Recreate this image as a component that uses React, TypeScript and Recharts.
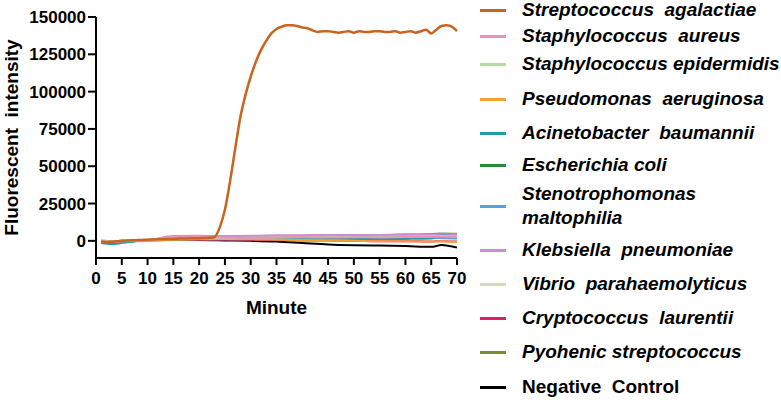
import React from 'react';
import { LineChart, Line, XAxis, YAxis } from 'recharts';

// minute-by-minute readings for the positive sample
const minutesFine = Array.from({ length: 70 }, (_, i) => i + 1);
const agalactiae = [
  -500, -800, -600, -300, 0, 200, 400, 500, 600, 800,
  900, 1000, 1100, 1200, 1300, 1500, 1600, 1700, 1800, 1800,
  1900, 2000, 2600, 9000, 21000, 40000, 62000, 83000, 98000, 110000,
  120000, 128000, 134000, 139000, 142000, 143500, 144500, 144500, 144000, 143000,
  142500, 141000, 140000, 140500, 140500, 140000, 139500, 140000, 140500, 139500,
  140500, 140000, 140000, 140500, 140500, 140000, 140000, 140500, 139500, 140000,
  140500, 139500, 140500, 141500, 139000, 141500, 144000, 144500, 143500, 140500,
];

// coarser readings for the baseline samples
const minutesCoarse = [1, 3, 5, 10, 15, 20, 25, 30, 35, 40, 45, 50, 55, 60, 65, 67, 70];
const aureus = [-500, -800, -300, 300, 2500, 2800, 2200, 2000, 2300, 2500, 2200, 2400, 2300, 2500, 2600, 2800, 2500];
const epidermidis = [0, -500, 0, 800, 1500, 2000, 1800, 2000, 2200, 2400, 2500, 2600, 2600, 2800, 3000, 3200, 3000];
const pseudomonas = [-300, -500, -300, 300, 800, 1000, 1200, 1000, 800, 500, 300, 0, -200, -300, -500, -300, -800];
const acinetobacter = [-1500, -2200, -1500, 500, 800, 1200, 1000, 1200, 1300, 1500, 1500, 1300, 1200, 1300, 1500, 3500, 3000];
const ecoli = [-1000, -1200, -800, 500, 1000, 1500, 1800, 1500, 1600, 1800, 2000, 2200, 2000, 2200, 2300, 2800, 2500];
const stenotrophomonas = [-800, -1000, -600, 400, 1200, 1500, 1400, 1600, 1500, 1800, 1700, 1900, 1800, 2000, 2000, 1800, 1600];
const klebsiella = [-500, -700, -400, 300, 3000, 3300, 3000, 3200, 3500, 3600, 3800, 3700, 3800, 4000, 4000, 4200, 4000];
const vibrio = [-300, -300, 0, 500, 1200, 1500, 1800, 2000, 2400, 2600, 2800, 3000, 3200, 3200, 3400, 3600, 3400];
const cryptococcus = [-800, -1000, -500, 200, 600, 800, 700, 800, 500, 300, 200, 0, -300, -200, -500, -200, -400];
const pyohenic = [-600, -800, -400, 500, 1000, 1500, 2000, 2500, 3000, 3200, 3500, 3800, 3800, 4200, 4500, 5000, 4800];
const negative = [0, -200, 0, 500, 500, 600, 300, 0, -500, -1500, -2500, -3000, -3200, -3500, -4000, -2800, -4500];

const xTicks = [0, 5, 10, 15, 20, 25, 30, 35, 40, 45, 50, 55, 60, 65, 70];
const yTicks = [0, 25000, 50000, 75000, 100000, 125000, 150000];

const toPoints = (minutes: number[], values: number[]) =>
  minutes.map((m, i) => ({ minute: m, value: values[i] }));

const series = [
  { name: 'Streptococcus  agalactiae', color: '#c8641e', data: toPoints(minutesFine, agalactiae), italic: true, width: 2.5 },
  { name: 'Staphylococcus  aureus', color: '#f090b8', data: toPoints(minutesCoarse, aureus), italic: true, width: 2 },
  { name: 'Staphylococcus epidermidis', color: '#b4dca0', data: toPoints(minutesCoarse, epidermidis), italic: true, width: 2 },
  { name: 'Pseudomonas  aeruginosa', color: '#f5a030', data: toPoints(minutesCoarse, pseudomonas), italic: true, width: 2 },
  { name: 'Acinetobacter  baumannii', color: '#1e9eaa', data: toPoints(minutesCoarse, acinetobacter), italic: true, width: 2 },
  { name: 'Escherichia coli', color: '#2a8a3a', data: toPoints(minutesCoarse, ecoli), italic: true, width: 2 },
  { name: 'Stenotrophomonas\nmaltophilia', color: '#5aa0dc', data: toPoints(minutesCoarse, stenotrophomonas), italic: true, width: 2 },
  { name: 'Klebsiella  pneumoniae', color: '#c890d2', data: toPoints(minutesCoarse, klebsiella), italic: true, width: 2.5 },
  { name: 'Vibrio  parahaemolyticus', color: '#d4dcb4', data: toPoints(minutesCoarse, vibrio), italic: true, width: 2 },
  { name: 'Cryptococcus  laurentii', color: '#dc1e6e', data: toPoints(minutesCoarse, cryptococcus), italic: true, width: 2 },
  { name: 'Pyohenic streptococcus', color: '#788c32', data: toPoints(minutesCoarse, pyohenic), italic: true, width: 2 },
  { name: 'Negative  Control', color: '#000000', data: toPoints(minutesCoarse, negative), italic: false, width: 2 },
];

const legendCenters = [10, 36, 64, 99, 133, 165, 206, 250, 284, 318, 352, 387];
const font = '"Liberation Sans", Arial, sans-serif';

const YLabel = ({ viewBox }: any) => {
  const cx = 11;
  const cy = viewBox.y + viewBox.height / 2;
  return (
    <text
      x={cx}
      y={cy}
      transform={`rotate(-90, ${cx}, ${cy})`}
      textAnchor="middle"
      dominantBaseline="central"
      fontSize={19}
      fontWeight="bold"
      fill="#000"
      style={{ whiteSpace: 'pre' }}
    >
      {'Fluorescent  intensity'}
    </text>
  );
};

const XLabel = ({ viewBox }: any) => (
  <text
    x={viewBox.x + viewBox.width / 2}
    y={307}
    textAnchor="middle"
    dominantBaseline="central"
    fontSize={19}
    fontWeight="bold"
    fill="#000"
  >
    Minute
  </text>
);

export default function App() {
  return (
    <div style={{ position: 'absolute', left: 0, top: 0, width: 781, height: 400, background: '#fff', fontFamily: font }}>
      <LineChart width={781} height={400} margin={{ top: 17, right: 324, left: 0, bottom: 0 }} style={{ fontFamily: font }}>
        <XAxis
          dataKey="minute"
          type="number"
          domain={[0, 70]}
          ticks={xTicks}
          interval={0}
          height={142}
          allowDuplicatedCategory={false}
          axisLine={{ stroke: '#000', strokeWidth: 2 }}
          tickLine={{ stroke: '#000', strokeWidth: 2 }}
          tickSize={7}
          tickMargin={7}
          tick={{ fill: '#000', fontSize: 17, fontWeight: 'bold' }}
          label={<XLabel />}
        />
        <YAxis
          type="number"
          domain={[-11500, 150000]}
          ticks={yTicks}
          interval={0}
          width={96}
          allowDataOverflow
          axisLine={{ stroke: '#000', strokeWidth: 2 }}
          tickLine={{ stroke: '#000', strokeWidth: 2 }}
          tickSize={8}
          tickMargin={2}
          tick={{ fill: '#000', fontSize: 17, fontWeight: 'bold' }}
          label={<YLabel />}
        />
        {series
          .slice()
          .reverse()
          .map((s) => (
            <Line
              key={s.name}
              data={s.data}
              dataKey="value"
              name={s.name}
              type="monotone"
              stroke={s.color}
              strokeWidth={s.width}
              dot={false}
              isAnimationActive={false}
            />
          ))}
      </LineChart>
      {series.map((s, i) => (
        <div key={s.name} style={{ position: 'absolute', left: 480, top: legendCenters[i], width: 301, height: 0 }}>
          <div style={{ position: 'absolute', left: 0, top: -1.5, width: 26, height: 3, background: s.color }} />
          <div
            style={{
              position: 'absolute',
              left: 42,
              top: 0,
              transform: 'translateY(-50%)',
              fontSize: 19,
              lineHeight: '24px',
              fontWeight: 'bold',
              fontStyle: s.italic ? 'italic' : 'normal',
              whiteSpace: 'pre',
              color: '#000',
            }}
          >
            {s.name}
          </div>
        </div>
      ))}
    </div>
  );
}
